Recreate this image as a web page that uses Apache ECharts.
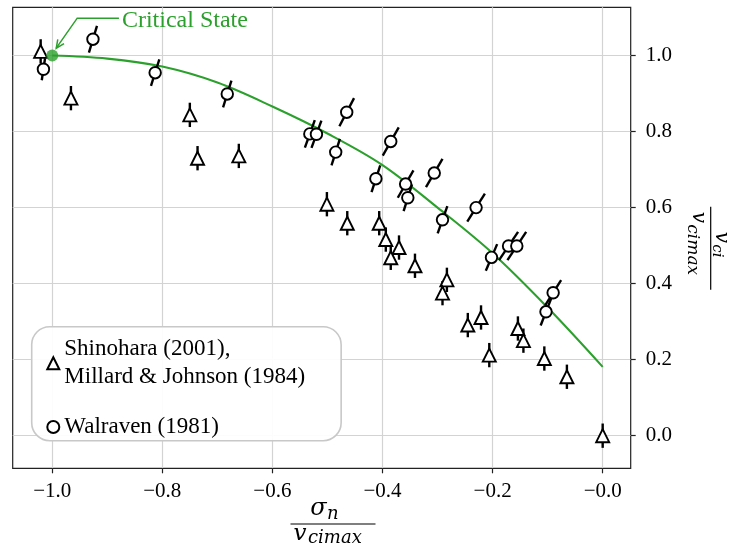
<!DOCTYPE html>
<html>
<head>
<meta charset="utf-8">
<script src="https://cdn.jsdelivr.net/npm/echarts@6/dist/echarts.min.js"></script>
<style>
  html, body { margin: 0; padding: 0; background: #fff; }
  #main { width: 729px; height: 544px; }
</style>
</head>
<body>
<div id="main"></div>
<script>
// Axis ticks
const xTicks = [-1.0, -0.8, -0.6, -0.4, -0.2, 0.0];
const yTicks = [0.0, 0.2, 0.4, 0.6, 0.8, 1.0];

// Shinohara (2001), Millard & Johnson (1984): normalised stress / shear capacity
const triX = [-1.021, -0.966, -0.750, -0.736, -0.661, -0.501, -0.464, -0.406, -0.394, -0.370, -0.385,
              -0.341, -0.283, -0.291, -0.245, -0.221, -0.206, -0.154, -0.144, -0.106, -0.065, 0.000];
const triY = [1.011, 0.888, 0.844, 0.730, 0.736, 0.609, 0.559, 0.559, 0.516, 0.495, 0.468,
              0.447, 0.410, 0.375, 0.291, 0.311, 0.212, 0.282, 0.250, 0.203, 0.155, 0.000];
const triYErr = 0.032;

// Walraven (1981), with error extents in both directions
const circX = [-1.016, -0.926, -0.813, -0.682, -0.532, -0.520, -0.465, -0.485, -0.385, -0.412,
               -0.358, -0.354, -0.306, -0.291, -0.230, -0.202, -0.171, -0.156, -0.090, -0.103];
const circY = [0.964, 1.043, 0.955, 0.899, 0.794, 0.793, 0.851, 0.746, 0.774, 0.676,
               0.662, 0.626, 0.691, 0.568, 0.600, 0.469, 0.499, 0.499, 0.376, 0.326];
const circXErr = [0.003, 0.0073, 0.0076, 0.0076, 0.009, 0.009, 0.0133, 0.0076, 0.0145, 0.0079,
                  0.0142, 0.0076, 0.015, 0.0088, 0.016, 0.0103, 0.0173, 0.017, 0.0145, 0.0097];
const circYErr = [0.029, 0.035, 0.035, 0.035, 0.036, 0.036, 0.037, 0.035, 0.037, 0.035,
                  0.036, 0.035, 0.037, 0.036, 0.037, 0.035, 0.037, 0.037, 0.033, 0.036];

// Critical state envelope
const curveX = [-1.0, -0.9, -0.8, -0.7, -0.6, -0.5, -0.4, -0.3, -0.2, -0.1, 0.0];
const curveY = [1.0, 0.992, 0.971, 0.929, 0.866, 0.795, 0.712, 0.600, 0.480, 0.337, 0.181];
const criticalPoint = [-1.0, 1.0];

const triName = 'Shinohara (2001),\nMillard & Johnson (1984)';
const circName = 'Walraven (1981)';

const SERIF = '"Liberation Serif", "DejaVu Serif", serif';
const MATH = '"DejaVu Serif", "Liberation Serif", serif';
const GREEN = '#2ca02c';

const errData = [];
triX.forEach((x, i) => errData.push([x, triY[i], 0, triYErr]));
circX.forEach((x, i) => errData.push([x, circY[i], circXErr[i], circYErr[i]]));

const chart = echarts.init(document.getElementById('main'), null, { renderer: 'canvas' });

const tickStyle = { color: '#222', width: 1.2 };
const gridStyle = { color: '#d3d3d3', width: 1.2 };

chart.setOption({
  animation: false,
  backgroundColor: '#fff',
  grid: {
    left: 12.7, right: 98.3, top: 7.3, bottom: 75.7,
    outerBoundsMode: 'none',
    show: true, borderColor: '#222', borderWidth: 1.2
  },
  xAxis: {
    type: 'value', min: -1.0718, max: 0.0509,
    axisLine: { show: false, onZero: false },
    axisTick: { show: true, customValues: xTicks, length: 5, lineStyle: tickStyle },
    axisLabel: {
      customValues: xTicks, margin: 13,
      fontFamily: SERIF, fontSize: 21, color: '#000',
      formatter: v => '\u2212' + Math.abs(v).toFixed(1)
    },
    splitLine: { show: true, lineStyle: gridStyle }
  },
  yAxis: {
    type: 'value', position: 'right', min: -0.0858, max: 1.127,
    axisLine: { show: false, onZero: false },
    axisTick: { show: true, customValues: yTicks, length: 5, lineStyle: tickStyle },
    axisLabel: {
      customValues: yTicks, margin: 15,
      fontFamily: SERIF, fontSize: 21, color: '#000',
      formatter: v => v.toFixed(1)
    },
    splitLine: { show: true, lineStyle: gridStyle }
  },
  legend: {
    data: [triName, circName],
    orient: 'vertical',
    left: 31.7, top: 326.7,
    padding: [9, 36, 0, 14.6],
    itemGap: 22.5,
    itemWidth: 12, itemHeight: 12,
    selectedMode: false,
    backgroundColor: 'rgba(255,255,255,0.92)',
    borderColor: '#c8c8c8', borderWidth: 1.6, borderRadius: 18,
    textStyle: { fontFamily: SERIF, fontSize: 23, lineHeight: 27.5, color: '#000' }
  },
  series: [
    {
      type: 'line', name: 'envelope',
      data: curveX.map((x, i) => [x, curveY[i]]),
      smooth: 0.35, symbol: 'none', silent: true,
      lineStyle: { color: GREEN, width: 2.1 },
      z: 2
    },
    {
      type: 'custom', name: 'error',
      data: errData, silent: true,
      encode: { x: 0, y: 1 },
      renderItem: (params, api) => {
        const x = api.value(0), y = api.value(1), ex = api.value(2), ey = api.value(3);
        const a = api.coord([x - ex, y - ey]);
        const b = api.coord([x + ex, y + ey]);
        return {
          type: 'line',
          shape: { x1: a[0], y1: a[1], x2: b[0], y2: b[1] },
          style: { stroke: '#000', lineWidth: 2.4, lineCap: 'butt' }
        };
      },
      z: 3
    },
    {
      type: 'scatter', name: triName,
      data: triX.map((x, i) => [x, triY[i]]),
      symbol: 'triangle', symbolSize: 13, silent: true,
      itemStyle: { color: '#fff', borderColor: '#000', borderWidth: 1.9, opacity: 1 },
      z: 4
    },
    {
      type: 'scatter', name: circName,
      data: circX.map((x, i) => [x, circY[i]]),
      symbol: 'circle', symbolSize: 11.5, silent: true,
      itemStyle: { color: '#fff', borderColor: '#000', borderWidth: 1.9, opacity: 1 },
      z: 4
    },
    {
      type: 'scatter', name: 'critical',
      data: [criticalPoint],
      symbol: 'circle', symbolSize: 12, silent: true,
      itemStyle: { color: GREEN },
      z: 5
    }
  ]
});

// Annotation for the critical state point, anchored to its pixel position
const cp = chart.convertToPixel({ gridIndex: 0 }, criticalPoint);
const elbow = [cp[0] + 25, cp[1] - 37.4];
const tip = [cp[0] + 4, cp[1] - 7.4];
const lineEnd = [cp[0] + 66.7, cp[1] - 37.4];
const dx = elbow[0] - tip[0], dy = elbow[1] - tip[1];
const len = Math.hypot(dx, dy);
const ux = dx / len, uy = dy / len;
const headLen = 9, ang = 25 * Math.PI / 180;
const rot = (s) => [
  tip[0] + headLen * (Math.cos(s * ang) * ux - Math.sin(s * ang) * uy),
  tip[1] + headLen * (Math.sin(s * ang) * ux + Math.cos(s * ang) * uy)
];

// Fraction-style axis titles; each glyph run is [text, x, baseline, fontSize, align]
function fraction(cx, cy, rotation, half, runs) {
  const children = [
    { type: 'line', shape: { x1: -half, y1: 0, x2: half, y2: 0 }, style: { stroke: '#000', lineWidth: 1.2 } }
  ];
  runs.forEach(([t, x, base, size, align]) => {
    children.push({
      type: 'text', x: x, y: base - 0.346 * size,
      style: { text: t, fontFamily: MATH, fontStyle: 'italic', fontSize: size, fill: '#000', align: align, verticalAlign: 'middle' }
    });
  });
  return { type: 'group', x: cx, y: cy, rotation: rotation, children: children };
}

chart.setOption({
  graphic: [
    {
      type: 'text', x: cp[0] + 69.7, y: cp[1] - 34.5,
      style: { text: 'Critical State', fontFamily: SERIF, fontSize: 24, fill: GREEN, align: 'left', verticalAlign: 'middle' }
    },
    {
      type: 'polyline', shape: { points: [lineEnd, elbow, tip] },
      style: { stroke: GREEN, lineWidth: 1.5, fill: null }
    },
    {
      type: 'polyline', shape: { points: [rot(1), tip, rot(-1)] },
      style: { stroke: GREEN, lineWidth: 1.5, fill: null }
    },
    fraction(333, 524, 0, 42.5, [
      ['\u03c3', -14.5, -7, 24, 'center'],
      ['n', -6, -3.3, 18, 'left'],
      ['v', -33, 18, 23, 'center'],
      ['cimax', -25, 20.5, 18, 'left']
    ]),
    fraction(710.7, 248.3, -Math.PI / 2, 41.5, [
      ['v', -11, -3.5, 20, 'center'],
      ['ci', -4, -1.5, 15, 'left'],
      ['v', -31, 19.5, 20, 'center'],
      ['cimax', -24, 24, 17, 'left']
    ])
  ]
});
</script>
</body>
</html>
